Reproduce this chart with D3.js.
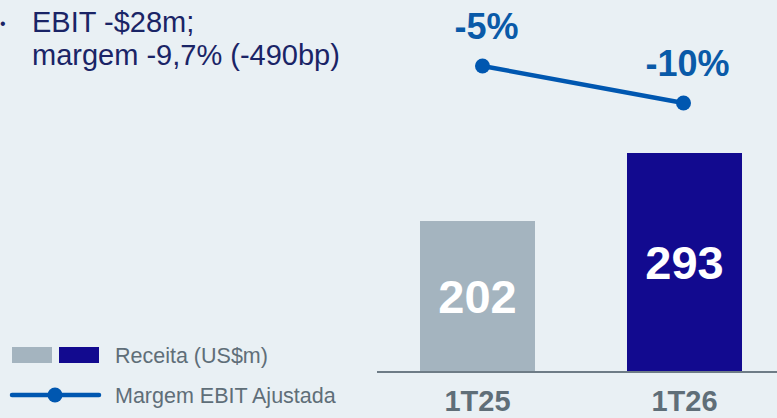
<!DOCTYPE html>
<html>
<head>
<meta charset="utf-8">
<script src="https://cdn.jsdelivr.net/npm/d3@7"></script>
<style>
  html, body { margin: 0; padding: 0; background: #e9f0f4; }
  svg { display: block; font-family: "Liberation Sans", Arial, sans-serif; }
</style>
</head>
<body>
<div id="chart"></div>
<script>
// Dados
const periodos = ["1T25", "1T26"];
const receita = [202, 293];
const margemEbit = [-4.8, -9.7];
const corBarras = ["#a4b4bf", "#120a8f"];
const titulo = ["EBIT -$28m;", "margem -9,7% (-490bp)"];
const legenda = ["Receita (US$m)", "Margem EBIT Ajustada"];

const width = 777, height = 418;

const svg = d3.select("#chart").append("svg")
    .attr("width", width)
    .attr("height", height);

svg.append("rect")
    .attr("width", width).attr("height", height)
    .attr("fill", "#e9f0f4");

// Escalas
const x = d3.scaleBand().domain(periodos).range([374, 788])
    .paddingInner(0.4444).paddingOuter(0.2222);
const y = d3.scaleLinear().domain([0, 293]).range([372, 153]);
const yMargem = d3.scaleLinear().domain([-4.8, -9.7]).range([66, 103]);

// Barras
svg.selectAll(".bar")
    .data(receita)
    .join("rect")
    .attr("class", "bar")
    .attr("x", (d, i) => x(periodos[i]))
    .attr("y", d => y(d))
    .attr("width", x.bandwidth())
    .attr("height", d => y(0) - y(d))
    .attr("fill", (d, i) => corBarras[i]);

// Valores dentro das barras
svg.selectAll(".valor")
    .data(receita)
    .join("text")
    .attr("class", "valor")
    .attr("x", (d, i) => x(periodos[i]) + x.bandwidth() / 2)
    .attr("y", d => (y(d) + y(0)) / 2 + 16)
    .attr("text-anchor", "middle")
    .attr("fill", "#ffffff")
    .attr("font-weight", "bold")
    .attr("font-size", 47)
    .text(d => d);

// Eixo
svg.append("line")
    .attr("x1", 377).attr("x2", width)
    .attr("y1", y(0)).attr("y2", y(0))
    .attr("stroke", "#6e7c86")
    .attr("stroke-width", 2);

svg.selectAll(".cat")
    .data(periodos)
    .join("text")
    .attr("class", "cat")
    .attr("x", d => x(d) + x.bandwidth() / 2)
    .attr("y", 411)
    .attr("text-anchor", "middle")
    .attr("fill", "#5f6e78")
    .attr("font-weight", "bold")
    .attr("font-size", 29)
    .text(d => d);

// Linha de margem
const cx = (d, i) => x(periodos[i]) + x.bandwidth() / 2 + (i === 0 ? 5 : -1);
const linha = d3.line().x(cx).y(d => yMargem(d));

svg.append("path")
    .datum(margemEbit)
    .attr("d", linha)
    .attr("fill", "none")
    .attr("stroke", "#0057b0")
    .attr("stroke-width", 4.5);

svg.selectAll(".ponto")
    .data(margemEbit)
    .join("circle")
    .attr("class", "ponto")
    .attr("cx", cx)
    .attr("cy", d => yMargem(d))
    .attr("r", 7.5)
    .attr("fill", "#0057b0");

const fmt = d3.formatLocale({ decimal: ",", thousands: ".", grouping: [3], currency: ["", ""], minus: "-" }).format(".0f");
svg.selectAll(".pct")
    .data(margemEbit)
    .join("text")
    .attr("class", "pct")
    .attr("x", (d, i) => cx(d, i) + 4)
    .attr("y", d => yMargem(d) - 27)
    .attr("text-anchor", "middle")
    .attr("fill", "#0a5aa8")
    .attr("font-weight", "bold")
    .attr("font-size", 36)
    .text(d => fmt(d) + "%");

// Texto no topo
svg.append("text")
    .attr("x", 0).attr("y", 29)
    .attr("fill", "#1a2466")
    .attr("font-size", 16)
    .text("•");

svg.selectAll(".titulo")
    .data(titulo)
    .join("text")
    .attr("class", "titulo")
    .attr("x", 32)
    .attr("y", (d, i) => 32 + i * 33)
    .attr("fill", "#1a2466")
    .attr("font-size", 29)
    .text(d => d);

// Legenda
svg.selectAll(".leg-rect")
    .data(corBarras)
    .join("rect")
    .attr("class", "leg-rect")
    .attr("x", (d, i) => 12 + i * 47)
    .attr("y", 347)
    .attr("width", 40)
    .attr("height", 16)
    .attr("fill", d => d);

svg.append("line")
    .attr("x1", 12).attr("x2", 99)
    .attr("y1", 395).attr("y2", 395)
    .attr("stroke", "#0057b0")
    .attr("stroke-width", 4.5)
    .attr("stroke-linecap", "round");

svg.append("circle")
    .attr("cx", 55).attr("cy", 395).attr("r", 7.5)
    .attr("fill", "#0057b0");

svg.selectAll(".leg-text")
    .data(legenda)
    .join("text")
    .attr("class", "leg-text")
    .attr("x", 115)
    .attr("y", (d, i) => 363 + i * 40)
    .attr("fill", "#5f6e78")
    .attr("font-size", 21.5)
    .text(d => d);
</script>
</body>
</html>
